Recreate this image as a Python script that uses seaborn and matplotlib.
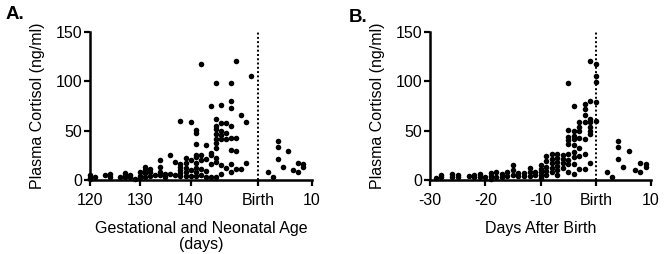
import numpy as np
import pandas as pd
import seaborn as sns
import matplotlib
matplotlib.use("Agg")
import matplotlib.pyplot as plt

# Panel A: gestational age (days) columns and cortisol values (ng/ml)
a_days = [120, 121, 123, 124, 126, 127, 128, 129, 130, 131, 132, 133, 134, 135,
          136, 137, 138, 139, 140, 141, 142, 143, 144, 145, 146, 147, 148, 149,
          150, 151, 152]
a_values = [[5, 2, 1], [3], [5], [6, 3], [3], [7, 5, 3], [5, 3], [1], [8, 4, 2],
            [13, 10, 7, 3], [11, 8, 4], [5], [20, 13, 8, 5], [6, 3], [25, 6],
            [18, 5], [60, 16, 13, 10, 7, 4], [22, 17, 12, 8, 4], [59, 20, 10, 4],
            [51, 48, 37, 25, 23, 17, 12, 8, 4], [118, 25, 20, 11, 5],
            [36, 21, 9, 3], [75, 27, 25, 16, 3],
            [98, 62, 55, 52, 47, 42, 38, 33, 22, 18, 3],
            [76, 58, 50, 46, 42, 15, 6], [58, 48, 42, 12],
            [98, 80, 73, 55, 43, 30, 16, 8], [121, 43, 29, 11], [66, 11],
            [59, 17], [105]]

# Panel B: days relative to birth, prenatal
b_days = [-29, -28, -26, -25, -23, -22, -21, -20, -19, -18, -17, -16, -15, -14,
          -13, -12, -11, -10, -9, -8, -7, -6, -5, -4, -3, -2, -1, 0]
b_values = [[2], [5, 3], [6, 3], [5, 3], [4], [5, 3], [6, 3], [3], [7, 4, 1],
            [8, 3], [6, 3], [8, 4], [15, 10, 5], [7, 4], [7, 4], [12, 8, 4],
            [8, 5], [15, 11, 8, 5, 2], [24, 19, 13, 9, 5], [26, 21, 17, 12, 8],
            [26, 22, 18, 14, 10, 5], [25, 21, 17, 12],
            [98, 51, 44, 41, 37, 26, 20, 16, 8],
            [75, 50, 45, 42, 36, 28, 23, 16, 6],
            [59, 54, 50, 43, 32, 24, 11], [77, 72, 66, 59, 42, 26, 11],
            [121, 80, 62, 59, 54, 50, 47, 17], [118, 105, 99, 79, 60]]

# Neonatal samples (days after birth), shown in both panels
post_days = [2, 3, 4, 4, 4, 5, 6, 7, 8, 8, 9, 9]
post_values = [8, 3, 40, 34, 21, 13, 29, 10.5, 17, 8.5, 16, 13.5]

birth_a = 153.4
a_ticks = [120, 130, 140, birth_a, birth_a + 10.7]
b_ticks = [-30, -20, -10, 0, 10]
tick_labels_a = ["120", "130", "140", "Birth", "10"]
tick_labels_b = ["-30", "-20", "-10", "Birth", "10"]

df_a = pd.DataFrame({
    "x": [d for d, vals in zip(a_days, a_values) for _ in vals] + [birth_a + d for d in post_days],
    "y": [v for vals in a_values for v in vals] + post_values,
})
df_b = pd.DataFrame({
    "x": [d for d, vals in zip(b_days, b_values) for _ in vals] + post_days,
    "y": [v for vals in b_values for v in vals] + post_values,
})

sns.set_style("ticks")
plt.rcParams["font.family"] = ["Liberation Sans", "DejaVu Sans"]
plt.rcParams.update({"text.color": "black", "axes.labelcolor": "black",
                     "xtick.color": "black", "ytick.color": "black"})

fig = plt.figure(figsize=(6.64, 2.54), dpi=100)
ax_a = fig.add_axes([0.1355, 0.291, 0.334, 0.583])
ax_b = fig.add_axes([0.6476, 0.291, 0.333, 0.583])

panels = [
    (ax_a, df_a, birth_a, a_ticks, tick_labels_a, "Gestational and Neonatal Age\n(days)"),
    (ax_b, df_b, 0, b_ticks, tick_labels_b, "Days After Birth"),
]
for ax, df, birth, ticks, labels, xlabel in panels:
    sns.scatterplot(data=df, x="x", y="y", ax=ax, color="black", s=16,
                    linewidth=0, clip_on=False, zorder=3)
    ax.vlines(birth, 0, 150, colors="black", linestyles=(0, (1, 1.2)), lw=1.4)
    ax.set_xlim(ticks[0], ticks[-1])
    ax.set_ylim(0, 150)
    ax.set_xticks(ticks, labels)
    ax.set_yticks([0, 50, 100, 150])
    ax.set_xlabel(xlabel, fontsize=11.5, labelpad=9, linespacing=1.1)
    ax.set_ylabel("Plasma Cortisol (ng/ml)", fontsize=11.5, labelpad=8)
    ax.tick_params(axis="both", labelsize=11.5, width=1.6, length=4,
                   color="black", labelcolor="black")
    ax.tick_params(axis="x", pad=5.5)
    ax.tick_params(axis="y", pad=1.5)
    sns.despine(ax=ax)
    for side in ["left", "bottom"]:
        ax.spines[side].set_linewidth(1.8)
        ax.spines[side].set_color("black")

fig.text(0.008, 0.975, "A.", fontsize=13.5, fontweight="bold", va="top")
fig.text(0.525, 0.965, "B.", fontsize=13.5, fontweight="bold", va="top")

fig.savefig("out.png", dpi=100)
